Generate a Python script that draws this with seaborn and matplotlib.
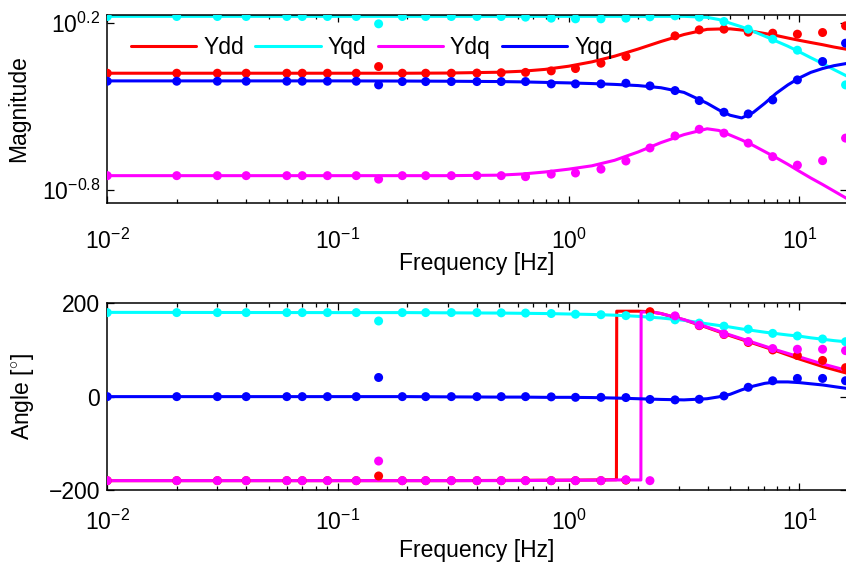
import numpy as np
import pandas as pd
import matplotlib
matplotlib.use("Agg")
import matplotlib.pyplot as plt
from matplotlib.lines import Line2D
from matplotlib.ticker import LogLocator, NullLocator, FixedLocator
import seaborn as sns

# ---------------------------------------------------------------- data
series = ["Ydd", "Yqd", "Ydq", "Yqq"]
colors = {"Ydd": "#ff0000", "Yqd": "#00ffff", "Ydq": "#ff00ff", "Yqq": "#0000ff"}

# measured frequencies [Hz]
f_meas = [0.01, 0.02, 0.03, 0.04, 0.06, 0.07, 0.09, 0.12, 0.15, 0.19, 0.24, 0.31,
          0.40, 0.51, 0.65, 0.84, 1.07, 1.38, 1.77, 2.25, 2.89, 3.68, 4.71, 6.00,
          7.66, 9.80, 12.6, 15.85]

# measured magnitudes (log10)
ydd_mag_meas = [-0.100, -0.100, -0.100, -0.100, -0.100, -0.100, -0.100, -0.100, -0.060,
                -0.100, -0.100, -0.100, -0.099, -0.097, -0.095, -0.086, -0.072, -0.040,
                0.000, np.nan, 0.124, 0.160, 0.164, 0.146, 0.140, 0.134, 0.144, 0.184]
yqd_mag_meas = [0.240, 0.240, 0.240, 0.240, 0.240, 0.240, 0.240, 0.240, 0.196,
                0.240, 0.240, 0.240, 0.240, 0.240, 0.236, 0.230, 0.226, 0.226,
                0.230, 0.238, 0.244, 0.236, 0.210, 0.164, 0.104, 0.038, -0.032, -0.170]
ydq_mag_meas = [-0.714, -0.714, -0.714, -0.714, -0.714, -0.714, -0.714, -0.714, -0.735,
                -0.714, -0.714, -0.714, -0.714, -0.714, -0.720, -0.705, -0.698, -0.675,
                -0.626, -0.548, -0.476, -0.436, -0.459, -0.519, -0.600, -0.651, -0.624, -0.489]
yqq_mag_meas = [-0.148, -0.148, -0.148, -0.148, -0.148, -0.148, -0.148, -0.148, -0.170,
                -0.150, -0.150, -0.150, -0.150, -0.150, -0.150, -0.164, -0.164, -0.164,
                -0.160, -0.176, -0.204, -0.264, -0.334, -0.344, -0.260, -0.140, -0.030, 0.080]

# measured angles [deg]
ydd_ang_meas = [-180, -180, -180, -180, -180, -180, -180, -180, -170,
                -180, -180, -180, -180, -180, -180, -180, -180, -180,
                -179, 182, 171, 152, 133, 116, 100, 88, 77.5, 62]
yqd_ang_meas = [180, 180, 180, 180, 180, 180, 180, 180, 162,
                180, 180, 180, 180, 179.5, 179, 178, 176.5, 175.5,
                173.5, 171, 164.5, 157.5, 151, 144.5, 135.5, 130, 123.5, 117.6]
ydq_ang_meas = [-180, -180, -180, -180, -180, -180, -180, -180, -138,
                -180, -180, -180, -180, -180, -180, -180, -180, -180,
                -178, -180, 173, 153, 134, 118, 103, 101.5, 101.5, 98.5]
yqq_ang_meas = [0, 0, 0, 0, 0, 0, 0, 0, 41,
                0, 0, 0, 0, 0, 0, -0.5, -1.5, -1.5,
                -2, -6, -7, -5.7, 1.5, 20, 34, 39, 39, 34]

# model frequencies [Hz]
f_model = [0.01, 0.1, 0.2, 0.3, 0.5, 0.63, 0.79, 1.0, 1.26, 1.58, 2.0, 2.51, 3.16,
           3.98, 4.47, 5.01, 5.62, 6.31, 7.08, 7.94, 8.91, 10.0, 11.2, 12.6, 14.1, 16.1]

# model magnitudes (log10)
ydd_mag_model = [-0.100, -0.100, -0.100, -0.099, -0.094, -0.088, -0.077, -0.058, -0.032,
                 0.002, 0.045, 0.090, 0.132, 0.163, 0.165, 0.166, 0.159, 0.150, 0.138,
                 0.126, 0.111, 0.097, 0.084, 0.071, 0.057, 0.043]
yqd_mag_model = [0.241, 0.241, 0.241, 0.241, 0.241, 0.241, 0.241, 0.241, 0.241,
                 0.241, 0.241, 0.241, 0.241, 0.235, 0.222, 0.200, 0.178, 0.151, 0.122,
                 0.092, 0.062, 0.028, -0.007, -0.042, -0.078, -0.118]
ydq_mag_model = [-0.714, -0.714, -0.714, -0.714, -0.711, -0.704, -0.692, -0.675, -0.655,
                 -0.622, -0.572, -0.516, -0.468, -0.433, -0.443, -0.471, -0.500, -0.533,
                 -0.570, -0.607, -0.646, -0.688, -0.728, -0.767, -0.806, -0.852]
yqq_mag_model = [-0.146, -0.146, -0.147, -0.148, -0.150, -0.152, -0.155, -0.158, -0.162,
                 -0.167, -0.174, -0.187, -0.215, -0.280, -0.320, -0.352, -0.368, -0.335,
                 -0.280, -0.220, -0.170, -0.128, -0.095, -0.072, -0.055, -0.041]

# model angles [deg]
yqd_ang_model = [180.5, 180, 180, 179.5, 179, 178.5, 178, 177, 176, 174.5, 172, 168.5,
                 163.5, 156, 152.5, 149, 145, 141.5, 138, 135, 132, 129.5, 126, 123,
                 120, 117.3]
yqq_ang_model = [0, 0, 0, -0.5, -1, -1, -1.5, -1.5, -2, -3, -4.5, -6, -7, -4.5, -0.5,
                 5, 14.5, 22.5, 28.5, 31.5, 31.5, 30, 27.5, 25, 21.5, 17.5]
f_ydd_ang = [0.01, 0.1, 0.3, 0.5, 0.79, 1.0, 1.26, 1.61, 1.615, 2.0, 2.24, 2.51, 3.16,
             3.98, 5.01, 6.31, 7.94, 10.0, 12.6, 16.1]
ydd_ang_model = [-180, -180, -180, -179.5, -179, -179, -178.5, -178, 183, 183, 182, 178,
                 164.5, 148, 130.5, 114.3, 98, 80.5, 64.5, 50]
f_ydq_ang = [0.01, 0.1, 0.3, 0.5, 0.79, 1.0, 1.26, 1.58, 2.0, 2.055, 2.06, 2.24, 2.51,
             3.16, 3.98, 5.01, 6.31, 7.94, 10.0, 12.6, 16.1]
ydq_ang_model = [-180, -180, -180, -180, -179.5, -179, -179, -178.5, -178.5, -178.5, 181,
                 182, 178, 165, 149, 132, 116, 100, 85, 70, 56]

# ---------------------------------------------------------------- tables
def long_table(columns):
    parts = []
    for name, (f, v) in columns.items():
        parts.append(pd.DataFrame({"freq": f, "value": v, "series": name}))
    return pd.concat(parts, ignore_index=True)

mag_meas = long_table({
    "Ydd": (f_meas, ydd_mag_meas), "Yqd": (f_meas, yqd_mag_meas),
    "Ydq": (f_meas, ydq_mag_meas), "Yqq": (f_meas, yqq_mag_meas)})
mag_model = long_table({
    "Ydd": (f_model, ydd_mag_model), "Yqd": (f_model, yqd_mag_model),
    "Ydq": (f_model, ydq_mag_model), "Yqq": (f_model, yqq_mag_model)})
ang_meas = long_table({
    "Ydd": (f_meas, ydd_ang_meas), "Yqd": (f_meas, yqd_ang_meas),
    "Ydq": (f_meas, ydq_ang_meas), "Yqq": (f_meas, yqq_ang_meas)})
ang_model = long_table({
    "Ydd": (f_ydd_ang, ydd_ang_model), "Yqd": (f_model, yqd_ang_model),
    "Ydq": (f_ydq_ang, ydq_ang_model), "Yqq": (f_model, yqq_ang_model)})
mag_meas["mag"] = 10 ** mag_meas["value"]
mag_model["mag"] = 10 ** mag_model["value"]

# ---------------------------------------------------------------- style
sns.set_style("ticks", {"xtick.direction": "in", "ytick.direction": "in",
                        "axes.edgecolor": "black", "text.color": "black",
                        "axes.labelcolor": "black", "xtick.color": "black",
                        "ytick.color": "black"})
plt.rcParams["font.family"] = ["Liberation Sans", "DejaVu Sans"]
plt.rcParams["mathtext.fontset"] = "custom"
plt.rcParams["mathtext.rm"] = "Liberation Sans"
plt.rcParams["mathtext.it"] = "Liberation Sans:italic"
plt.rcParams["mathtext.bf"] = "Liberation Sans:bold"
plt.rcParams["axes.unicode_minus"] = True
plt.rcParams["text.color"] = "black"
FS = 16.5

fig = plt.figure(figsize=(8.46, 5.66), dpi=100)
ax1 = fig.add_axes([0.1268, 0.6419, 0.8744, 0.3322])
ax2 = fig.add_axes([0.1268, 0.1343, 0.8744, 0.3299])

LW = 2.2
MS = 42

def draw(ax, model, meas, ycol):
    sns.lineplot(data=model, x="freq", y=ycol, hue="series", hue_order=series,
                 palette=colors, estimator=None, linewidth=LW, legend=False,
                 ax=ax, zorder=2)
    sns.scatterplot(data=meas.dropna(subset=[ycol]), x="freq", y=ycol, hue="series",
                    hue_order=series, palette=colors, s=MS, linewidth=0,
                    legend=False, ax=ax, zorder=3)

draw(ax1, mag_model, mag_meas, "mag")
draw(ax2, ang_model, ang_meas, "value")

xmax = 10 ** 1.2063
for ax, xpad, lpad in ((ax1, 19.0, -1.5), (ax2, 14.4, 2.5)):
    ax.set_xscale("log")
    ax.set_xlim(0.01, xmax)
    ax.xaxis.set_major_locator(FixedLocator([0.01, 0.1, 1, 10]))
    ax.xaxis.set_minor_locator(LogLocator(base=10, subs=np.arange(2, 10), numticks=20))
    ax.set_xticklabels([r"$10^{-2}$", r"$10^{-1}$", r"$10^{0}$", r"$10^{1}$"])
    ax.tick_params(which="both", direction="in", top=True, right=True,
                   width=0.9, color="black", labelcolor="black", labelsize=FS)
    ax.tick_params(which="major", length=5.3)
    ax.tick_params(which="minor", length=3.2)
    ax.tick_params(axis="x", which="major", pad=xpad)
    ax.tick_params(axis="y", which="major", pad=5)
    for s in ax.spines.values():
        s.set_linewidth(1.1)
        s.set_color("black")
    ax.set_xlabel("Frequency [Hz]", fontsize=FS, labelpad=lpad, color="black")
    ax.set_facecolor("white")

ax1.set_yscale("log")
ax1.set_ylim(10 ** -0.876, 10 ** 0.251)
ax1.yaxis.set_major_locator(FixedLocator([10 ** -0.8, 10 ** 0.2]))
ax1.yaxis.set_minor_locator(NullLocator())
ax1.set_yticklabels([r"$10^{-0.8}$", r"$10^{0.2}$"])
ax1.set_ylabel("Magnitude", fontsize=FS, color="black")
ax1.yaxis.set_label_coords(-0.104, 0.5)

ax2.set_ylim(-200, 200)
ax2.set_yticks([-200, 0, 200])
ax2.set_yticklabels(["\u2212200", "0", "200"])
ax2.set_ylabel(r"Angle [$^{\circ}$]", fontsize=FS, color="black")
ax2.yaxis.set_label_coords(-0.097, 0.5)

handles = [Line2D([], [], color=colors[s], lw=LW) for s in series]
leg = ax1.legend(handles, series, ncol=4, frameon=False, loc="center left",
                 bbox_to_anchor=(0.032, 0.825), borderaxespad=0, borderpad=0,
                 handlelength=2.85, handletextpad=0.3, columnspacing=0.5,
                 fontsize=FS, labelcolor="black")
leg.set_zorder(10)

fig.savefig("out.png", dpi=100)
